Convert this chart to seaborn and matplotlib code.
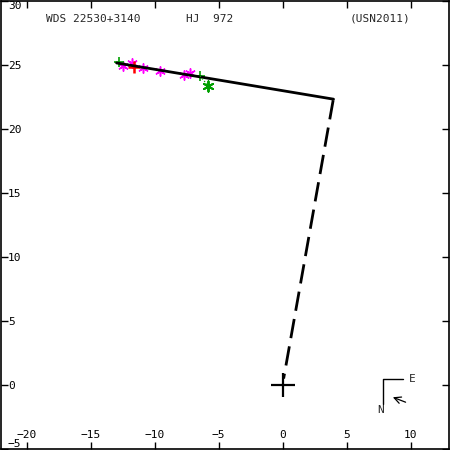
import matplotlib
matplotlib.use("Agg")
import matplotlib.pyplot as plt
import numpy as np
import pandas as pd
import seaborn as sns

# orbit arc and line of nodes
orbit_x = [-12.97, 3.98]
orbit_y = [25.16, 22.33]
node_x = [3.95, 0.08]
node_y = [22.25, 0.5]

# observations
micro_x = [-12.5, -11.8, -10.9, -9.6, -7.7, -7.2]
micro_y = [24.95, 25.15, 24.75, 24.55, 24.2, 24.35]
red_x = [-11.6]
red_y = [24.85]
green_plus_x = [-12.75, -6.45]
green_plus_y = [25.25, 24.15]
green_star_x = [-5.8]
green_star_y = [23.35]
resid_x = [-6.45, -5.8]
resid_y = [24.15, 23.35]

xticks = [-20, -15, -10, -5, 0, 5, 10]
yticks = [-5, 0, 5, 10, 15, 20, 25, 30]

sns.set_theme(style="ticks")
plt.rcParams["font.family"] = ["DejaVu Sans Mono"]

fig = plt.figure(figsize=(4.5, 4.5), dpi=100)
ax = fig.add_axes([1 / 450, 1 / 450, 448 / 450, 448 / 450])

sns.lineplot(x=orbit_x, y=orbit_y, ax=ax, color="black", lw=2.0, sort=False)
sns.lineplot(x=node_x, y=node_y, ax=ax, color="black", lw=2.0, sort=False,
             linestyle=(0, (7, 3)))
sns.lineplot(x=resid_x, y=resid_y, ax=ax, color="#00a000", lw=0.9, sort=False,
             linestyle=":")
sns.scatterplot(x=micro_x, y=micro_y, ax=ax, marker=(6, 2, 0), s=45,
                color="#ff00ff", linewidth=1.1, edgecolor="#ff00ff")
sns.scatterplot(x=red_x, y=red_y, ax=ax, marker="+", s=75, color="red",
                linewidth=1.8)
sns.scatterplot(x=green_plus_x, y=green_plus_y, ax=ax, marker="+", s=55,
                color="#00a000", linewidth=1.2)
sns.scatterplot(x=green_star_x, y=green_star_y, ax=ax, marker=(6, 2, 0), s=55,
                color="#00a000", linewidth=1.4, edgecolor="#00a000")
sns.scatterplot(x=[0], y=[0], ax=ax, marker="+", s=300, color="black",
                linewidth=1.6)

ax.set_xlim(-22, 13)
ax.set_ylim(-5, 30)
ax.set_xticks(xticks)
ax.set_yticks(yticks)
ax.set_xticklabels([str(t).replace("-", "\u2212") for t in xticks])
ax.set_yticklabels([str(t).replace("-", "\u2212") for t in yticks])
ax.tick_params(axis="both", direction="in", length=5, width=1, colors="black",
               labelsize=8, top=True, right=True)
ax.tick_params(axis="x", pad=-14)
ax.tick_params(axis="y", pad=-5)
ylabs = ax.get_yticklabels()
for lab in ylabs:
    lab.set_horizontalalignment("left")
ylabs[0].set_verticalalignment("bottom")
ylabs[-1].set_verticalalignment("top")
for s in ax.spines.values():
    s.set_linewidth(1.2)
    s.set_color("black")

ax.text(45 / 450, 1 - 18 / 450, "WDS 22530+3140", transform=ax.transAxes,
        fontsize=8, va="center", ha="left")
ax.text(186 / 450, 1 - 18 / 450, "HJ  972", transform=ax.transAxes,
        fontsize=8, va="center", ha="left")
ax.text(350 / 450, 1 - 18 / 450, "(USN2011)", transform=ax.transAxes,
        fontsize=8, va="center", ha="left")

# compass
ax.plot([384 / 450, 384 / 450, 404 / 450], [1 - 405 / 450, 1 - 380 / 450, 1 - 380 / 450],
        transform=ax.transAxes, color="black", lw=1)
ax.text(410 / 450, 1 - 380 / 450, "E", transform=ax.transAxes, fontsize=8,
        va="center", ha="left")
ax.text(381 / 450, 1 - 411 / 450, "N", transform=ax.transAxes, fontsize=8,
        va="center", ha="center")
ax.annotate("", xy=(391 / 450, 1 - 397 / 450), xytext=(409 / 450, 1 - 404 / 450),
            xycoords="axes fraction", textcoords="axes fraction",
            arrowprops=dict(arrowstyle="->", color="black", lw=0.9))

fig.savefig("out.png", dpi=100)
